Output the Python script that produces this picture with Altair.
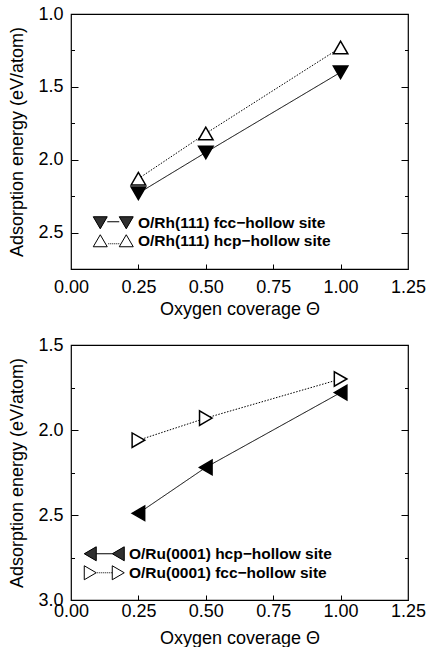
import altair as alt
import pandas as pd

# ---------------- data ----------------
coverage = [0.25, 0.50, 1.00]

rh_fcc_label = "O/Rh(111) fcc−hollow site"
rh_hcp_label = "O/Rh(111) hcp−hollow site"
rh_fcc_energy = [2.23, 1.95, 1.40]
rh_hcp_energy = [2.13, 1.82, 1.23]

ru_hcp_label = "O/Ru(0001) hcp−hollow site"
ru_fcc_label = "O/Ru(0001) fcc−hollow site"
ru_hcp_energy = [2.49, 2.22, 1.78]
ru_fcc_energy = [2.06, 1.93, 1.70]

x_labels = [0.0, 0.25, 0.5, 0.75, 1.0, 1.25]
x_inner_ticks = [0.25, 0.5, 0.75, 1.0]
top_y_domain = [1.0, 2.75]
top_y_major = [1.0, 1.5, 2.0, 2.5]
top_y_minor = [1.25, 1.75, 2.25]
bot_y_domain = [1.5, 3.0]
bot_y_major = [1.5, 2.0, 2.5, 3.0]
bot_y_minor = [1.75, 2.25, 2.75]

x_title = "Oxygen coverage Θ"
y_title = "Adsorption energy (eV/atom)"

FONT = "Liberation Sans"


def frame(labels, series):
    rows = []
    for lab, vals in zip(labels, series):
        for c, v in zip(coverage, vals):
            rows.append({"coverage": c, "energy": v, "series": lab})
    return pd.DataFrame(rows)


# ---------------- legend symbol paths (marker-line-marker) ----------------
SC = 7.0  # sqrt(symbolSize)/2 -> pixels per path unit


def P(x, y):
    return f"{x / SC:.4f},{y / SC:.4f}"


def poly(pts):
    return "M" + "L".join(P(*p) for p in pts) + "Z"


def seg(x1, y1, x2, y2):
    return f"M{P(x1, y1)}L{P(x2, y2)}"


def dots(x1, x2, y):
    return "".join(seg(x, y, x + 1, y) for x in range(x1, x2, 2))


def tri_down_filled(cx):
    s = poly([(cx - 7, -6), (cx + 7, -6), (cx, 6)])
    for i in range(12):
        y = -6 + i + 0.5
        hw = 7 * (6 - y) / 12
        s += seg(cx - hw, y, cx + hw, y)
    return s


def tri_up_open(cx):
    return poly([(cx - 7, 6), (cx + 7, 6), (cx, -6)])


def tri_left_filled(cx):
    s = poly([(cx - 6, 0), (cx + 6, -7), (cx + 6, 7)])
    for i in range(12):
        x = cx - 6 + i + 0.5
        hh = 7 * (x - (cx - 6)) / 12
        s += seg(x, -hh, x, hh)
    return s


def tri_right_open(cx):
    return poly([(cx - 6, -7), (cx - 6, 7), (cx + 6, 0)])


path_down_solid = tri_down_filled(-13) + seg(-6, -1, 6, -1) + tri_down_filled(13)
path_up_dotted = tri_up_open(-13) + dots(-5, 6, 3) + tri_up_open(13)
path_left_solid = tri_left_filled(-14) + seg(-8, 0, 8, 0) + tri_left_filled(14)
path_right_dotted = tri_right_open(-14) + dots(-7, 8, 0) + tri_right_open(14)


def panel(df, labels, shapes, y_domain, y_major, y_minor, legend_x, paths, xlab_pad, xtitle_pad):
    xs = alt.Scale(domain=[0, 1.25], nice=False, zero=False)
    ys = alt.Scale(domain=y_domain, reverse=True, nice=False, zero=False)

    def X(axis):
        return alt.X("coverage:Q", scale=xs, axis=axis)

    def Y(axis):
        return alt.Y("energy:Q", scale=ys, axis=axis)

    main_x = alt.Axis(orient="bottom", values=x_labels, format=".2f", tickSize=0, ticks=False,
                      labelPadding=xlab_pad, labelFlush=False, labelOverlap=False, domain=False,
                      grid=False, title=x_title, titlePadding=xtitle_pad)
    main_y = alt.Axis(orient="left", values=y_major, format=".1f", tickSize=0, ticks=False,
                      labelPadding=8, labelFlush=False, labelOverlap=False, domain=False,
                      grid=False, title=y_title, titlePadding=11)

    def tick_axis(orient, vals, size):
        return alt.Axis(orient=orient, values=vals, ticks=True, tickSize=size, offset=-size,
                        labels=False, domain=False, grid=False, title=None)

    base = alt.Chart(df)
    lines = base.mark_line(color="black", strokeWidth=1).encode(
        x=X(main_x), y=Y(main_y),
        strokeDash=alt.StrokeDash("series:N", scale=alt.Scale(domain=labels, range=[[1, 0], [1.5, 1.5]]),
                                  legend=None),
    )

    points = base.mark_point(filled=True, size=210, stroke="black", strokeWidth=1.5, opacity=1).encode(
        x=X(tick_axis("bottom", x_inner_ticks, 5)),
        y=Y(tick_axis("left", y_major, 7)),
        shape=alt.Shape("series:N", scale=alt.Scale(domain=labels, range=shapes), legend=None),
        fill=alt.Fill("series:N", scale=alt.Scale(domain=labels, range=["black", "white"]), legend=None),
    )

    legend = alt.Legend(
        orient="none", legendX=legend_x, legendY=201, title=None, padding=0, rowPadding=0,
        symbolSize=196, symbolStrokeWidth=1, symbolStrokeColor="black", symbolFillColor="transparent",
        symbolOffset=12.5, labelOffset=17, labelFont=FONT, labelFontSize=15.5, labelFontWeight="bold",
        labelColor="black", labelLimit=0,
    )
    # invisible marks that carry the legend (marker-line-marker symbols)
    key = base.mark_point(opacity=0, filled=False, color="black", strokeWidth=1).encode(
        x=X(None),
        y=Y(tick_axis("left", y_minor, 3.5)),
        shape=alt.Shape("series:N", scale=alt.Scale(domain=labels, range=paths), legend=legend),
    )

    ghost2 = base.mark_point(opacity=0).encode(x=X(None), y=Y(tick_axis("right", y_major, 7)))
    ghost3 = base.mark_point(opacity=0).encode(x=X(None), y=Y(tick_axis("right", y_minor, 3.5)))

    return alt.layer(lines, points, key, ghost2, ghost3).resolve_axis(
        x="independent", y="independent"
    ).resolve_scale(shape="independent").resolve_legend(shape="independent").properties(
        width=337, height=255)


top_df = frame([rh_fcc_label, rh_hcp_label], [rh_fcc_energy, rh_hcp_energy])
bot_df = frame([ru_hcp_label, ru_fcc_label], [ru_hcp_energy, ru_fcc_energy])

top = panel(top_df, [rh_fcc_label, rh_hcp_label], ["triangle-down", "triangle-up"],
            top_y_domain, top_y_major, top_y_minor, 22, [path_down_solid, path_up_dotted], 9, 4)
bottom = panel(bot_df, [ru_hcp_label, ru_fcc_label], ["triangle-left", "triangle-right"],
               bot_y_domain, bot_y_major, bot_y_minor, 13, [path_left_solid, path_right_dotted], 2, 9)

chart = alt.vconcat(top, bottom, spacing=16).resolve_scale(
    shape="independent", fill="independent", strokeDash="independent"
).resolve_legend(
    shape="independent", fill="independent", strokeDash="independent"
).properties(
    padding={"left": 8, "top": 4, "right": 0, "bottom": 0},
    background="white",
).configure_view(
    stroke="black", strokeWidth=1.2
).configure_axis(
    labelFont=FONT, titleFont=FONT, labelFontSize=18, titleFontSize=18,
    titleFontWeight="normal", labelColor="black", titleColor="black",
    tickColor="black", tickWidth=1, domainColor="black",
)

chart.save("out.html", embed_options={"renderer": "svg", "actions": False})
